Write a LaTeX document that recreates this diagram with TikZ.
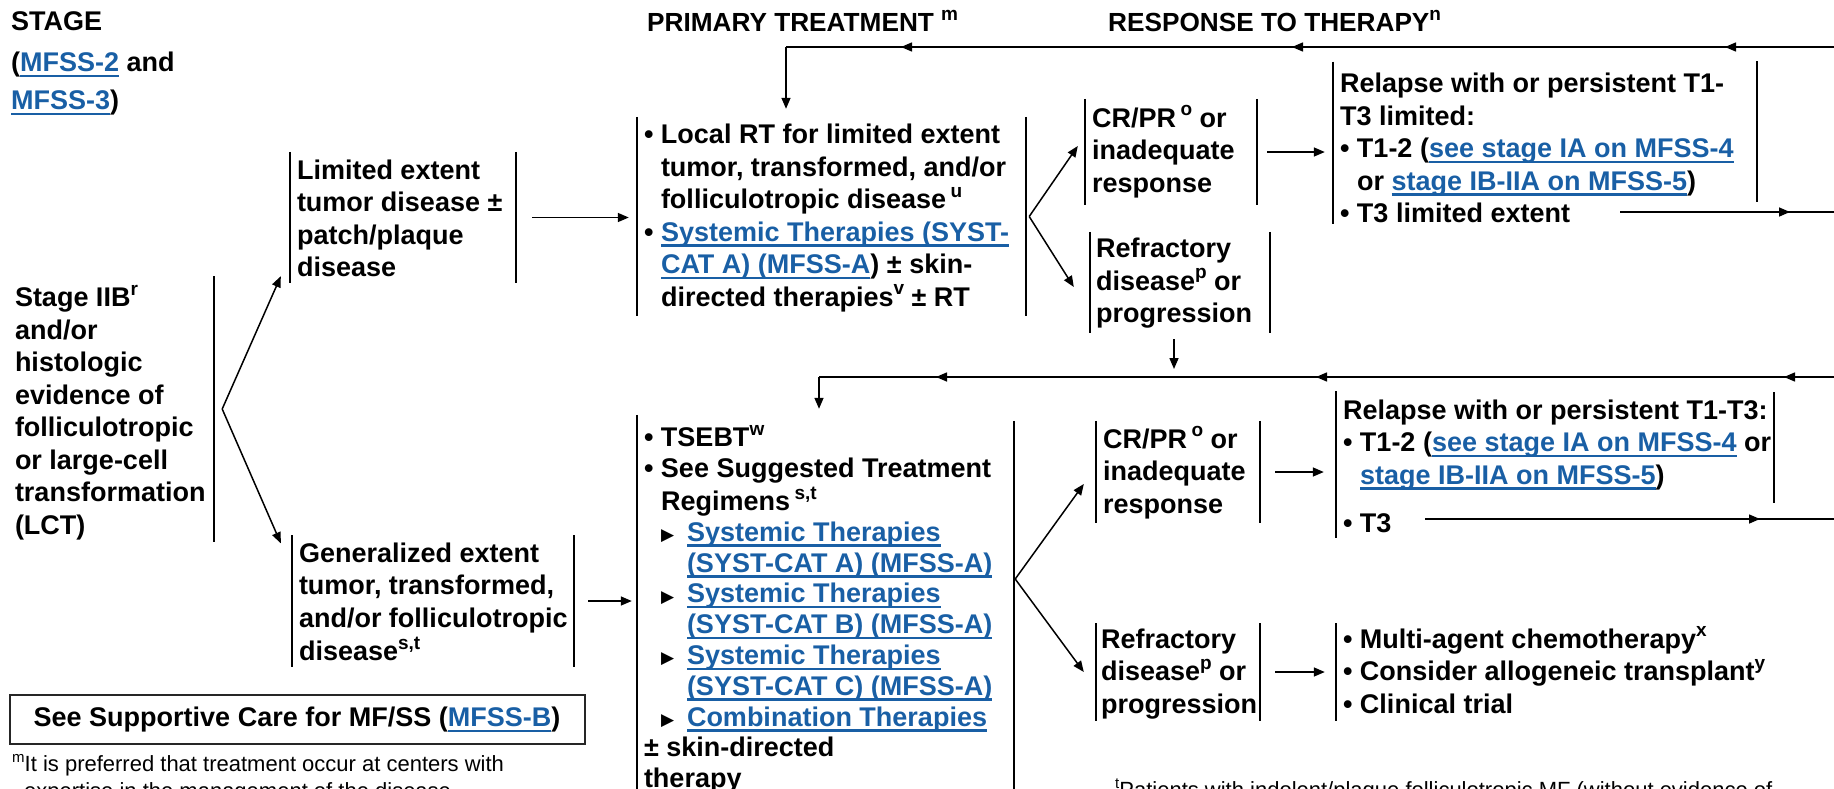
\documentclass[tikz,border=0pt]{standalone}
\usepackage{fontspec}
\setmainfont{Liberation Sans}
\newfontfamily\symfont{DejaVu Sans}
\usetikzlibrary{arrows.meta,decorations.markings,calc}
\definecolor{linkblue}{RGB}{25,95,165}
\newsavebox{\lkbox}
\newcommand{\lk}[1]{{\color{linkblue}\sbox{\lkbox}{#1}\rlap{\rule[-5.5pt]{\wd\lkbox}{2.4pt}}\usebox{\lkbox}}}
\newcommand{\sps}[1]{\raisebox{0.42em}{\fontsize{19}{19}\selectfont #1}}
\newcommand{\fsp}[1]{\raisebox{0.4em}{\fontsize{15}{15}\selectfont #1}}
\newcommand{\bul}{\makebox[17pt][l]{•}}
\newcommand{\ind}{\hspace*{17pt}}
\newcommand{\tri}{\makebox[26pt][l]{\raisebox{0.5pt}{\symfont\fontsize{17}{17}\selectfont ▶}}}
\newcommand{\bx}[3][4]{\raisebox{-#1pt}[\height][\depth]{\makebox[#2pt][l]{\begin{tabular}{@{}l@{}}#3\end{tabular}}}}
\newcommand{\barLR}[1]{\draw[barln] (#1.north west) -- (#1.south west) (#1.north east) -- (#1.south east);}
\newcommand{\barL}[1]{\draw[barln] (#1.north west) -- (#1.south west);}
\newcommand{\barR}[1]{\draw[barln] (#1.north east) -- (#1.south east);}
\tikzset{
  txt/.style={inner xsep=7pt, inner ysep=0pt, font=\fontsize{27}{32.5}\selectfont\bfseries},
  hdr/.style={txt, anchor=west, font=\fontsize{26.2}{32}\selectfont\bfseries},
  fn/.style={inner xsep=0pt, inner ysep=0pt, font=\fontsize{22}{27}\selectfont, anchor=north west},
  barln/.style={draw=black, line width=1.8pt},
  ln/.style={draw=black, line width=1.5pt},
  arr/.style={ln, -{Triangle[length=11pt,width=9pt]}},
  tipmark/.style={postaction={decorate}, decoration={markings, mark=at position #1 with {\arrow{Triangle[length=11pt,width=9pt]}}}},
}
\begin{document}
\begin{tikzpicture}[x=1pt,y=-1pt]
\useasboundingbox (0,0) rectangle (1834,788);
\clip (0,0) rectangle (1834,788);

% headers
\node[txt, anchor=north west] (hstage) at (4,4) {\fontsize{27}{38}\selectfont\begin{tabular}{@{}l@{}}STAGE\\[3pt](\lk{MFSS-2} and\\\lk{MFSS-3})\end{tabular}};
\node[hdr] (hprim) at (640,21) {PRIMARY TREATMENT \sps{m}};
\node[hdr] (hresp) at (1101,21) {RESPONSE TO THERAPY\sps{n}};

% boxes
\node[txt, minimum height=265pt] (stg) at (111,409) {\bx[5]{192}{Stage IIB\sps{r}\\and/or\\histologic\\evidence of\\folliculotropic\\or large-cell\\transformation\\(LCT)}};
\barR{stg}

\node[txt, minimum height=131pt] (lim) at (403,217.5) {\bx{212}{Limited extent\\tumor disease ±\\patch/plaque\\disease}};
\barLR{lim}

\node[txt, minimum height=126pt] (gen) at (433,601) {\bx{268}{Generalized extent\\tumor, transformed,\\and/or folliculotropic\\disease\sps{s,t}}};
\barLR{gen}

\node[txt, minimum height=199pt] (p1) at (831.5,216.5) {\bx[2]{375}{\bul Local RT for limited extent\\
\ind tumor, transformed, and/or\\
\ind folliculotropic disease\,\sps{u}\\
\bul\lk{Systemic Therapies (SYST-}\\
\ind\lk{CAT A) (MFSS-A}) ± skin-\\
\ind directed therapies\sps{v} ± RT}};
\barLR{p1}

\node[txt, minimum height=390pt, font=\fontsize{27}{30.8}\selectfont\bfseries] (p2) at (825.5,610) {\bx[1]{363}{\bul TSEBT\sps{w}\\
\bul See Suggested Treatment\\
\ind Regimens\,\sps{s,t}\\
\ind\tri\lk{Systemic Therapies}\\
\ind\hspace*{26pt}\lk{(SYST-CAT A) (MFSS-A)}\\
\ind\tri\lk{Systemic Therapies}\\
\ind\hspace*{26pt}\lk{(SYST-CAT B) (MFSS-A)}\\
\ind\tri\lk{Systemic Therapies}\\
\ind\hspace*{26pt}\lk{(SYST-CAT C) (MFSS-A)}\\
\ind\tri\lk{Combination Therapies}\\
± skin-directed\\
therapy}};
\barL{p2}
\draw[barln] ([yshift=-6pt]p2.north east) -- (p2.south east);

\node[txt, minimum height=106pt] (cr1) at (1171,152) {\bx[1]{158}{CR/PR\,\sps{o} or\\inadequate\\response}};
\barLR{cr1}
\node[txt, minimum height=101pt, inner xsep=6pt] (rf1) at (1180,282.5) {\bx[1]{168}{Refractory\\disease\sps{p} or\\progression}};
\barLR{rf1}

\node[txt, minimum height=158pt] (rel1) at (1545,143) {\bx[8]{410}{Relapse with or persistent T1-\\
T3 limited:\\
\bul T1-2 (\lk{see stage IA on MFSS-4}\\
\ind or \lk{stage IB-IIA on MFSS-5})\\
\bul T3 limited extent}};
\barL{rel1}
\draw[barln] (rel1.east |- 0,61) -- (rel1.east |- 0,202);

\node[txt, minimum height=102pt] (cr2) at (1178,472) {\bx[2]{150}{CR/PR\,\sps{o} or\\inadequate\\response}};
\barLR{cr2}
\node[txt, minimum height=92pt, inner xsep=5pt] (rf2) at (1178,672) {\bx[2]{154}{Refractory\\disease\sps{p} or\\progression}};
\barLR{rf2}

\node[txt, minimum height=139pt] (rel2) at (1555,464.5) {\bx[5]{424}{Relapse with or persistent T1-T3:\\
\bul T1-2 (\lk{see stage IA on MFSS-4} or\\
\ind\lk{stage IB-IIA on MFSS-5})\\[16pt]
\bul T3}};
\barL{rel2}
\draw[barln] (rel2.east |- 0,392) -- (rel2.east |- 0,503);

\node[txt, minimum height=92pt] (res) at (1573,672) {\bx[2]{460}{\bul Multi-agent chemotherapy\sps{x}\\
\bul Consider allogeneic transplant\sps{y}\\
\bul Clinical trial}};
\barL{res}

% supportive care box
\node[txt, draw=black!85, line width=2pt, minimum width=575pt, minimum height=49pt, inner xsep=0pt] (supc) at (297,719.5) {See Supportive Care for MF/SS (\lk{MFSS-B})};

% footnotes
\node[fn] (fm) at (12,752) {\begin{tabular}{@{}l@{}}\fsp{m}It is preferred that treatment occur at centers with\\\hspace*{12pt}expertise in the management of the disease.\end{tabular}};
\node[fn] (ft) at (1115,779) {\fsp{t}Patients with indolent/plaque folliculotropic MF (without evidence of};

% connectors
\coordinate (f0) at ($(stg.east)+(8,0)$);
\draw[arr] (f0) -- ($(lim.south west)+(-9,-7)$);
\draw[arr] (f0) -- ($(gen.north west)+(-11,8)$);

\draw[arr, shorten <=16pt, shorten >=8pt] (lim.east) -- (lim.east -| p1.west);
\draw[arr, shorten <=14pt, shorten >=5pt] (gen.east) -- (gen.east -| p2.west);

\coordinate (f1) at ($(p1.east)+(3,0)$);
\draw[arr] (f1) -- ($(cr1.west)+(-7,-6)$);
\draw[arr] (f1) -- ($(rf1.west)+(-16,4.5)$);

\coordinate (f2) at ($(p2.east)+(1,-31)$);
\draw[arr] (f2) -- ($(cr2.west)+(-12,12)$);
\draw[arr] (f2) -- ($(rf2.west)+(-12,0)$);

\draw[arr, shorten <=10pt, shorten >=8pt] (cr1.east) -- (cr1.east -| rel1.west);
\draw[arr, shorten <=15pt, shorten >=12pt] (cr2.east) -- (cr2.east -| rel2.west);
\draw[arr, shorten <=15pt, shorten >=11pt] (rf2.east) -- (rf2.east -| res.west);

% feedback loops
\coordinate (fbA) at (1834,47);
\coordinate (fbAt) at (786,47);
\draw[ln, tipmark=109pt] (fbA) -- (fbAt);
\draw[ln, tipmark=542pt] (fbA) -- (fbAt);
\draw[ln, tipmark=933pt] (fbA) -- (fbAt);
\draw[arr, shorten >=8pt] (fbAt) -- (fbAt |- p1.north);

\coordinate (fbB) at (1834,377);
\coordinate (fbBt) at (819,377);
\draw[ln, tipmark=50pt] (fbB) -- (fbBt);
\draw[ln, tipmark=518pt] (fbB) -- (fbBt);
\draw[ln, tipmark=898pt] (fbB) -- (fbBt);
\draw[arr, shorten >=6pt] (fbBt) -- (fbBt |- p2.north);

\draw[arr, shorten <=6pt, shorten >=8pt] ([xshift=-6pt]rf1.south) -- ([xshift=-6pt]rf1.south |- fbB);

% T3 outgoing lines
\coordinate (t3a) at (1620,212);
\coordinate (t3aR) at (1834,212);
\draw[ln, tipmark=170pt] (t3a) -- (t3aR);
\coordinate (t3b) at (1425,519);
\coordinate (t3bR) at (1834,519);
\draw[ln, tipmark=335pt] (t3b) -- (t3bR);
\end{tikzpicture}
\end{document}
